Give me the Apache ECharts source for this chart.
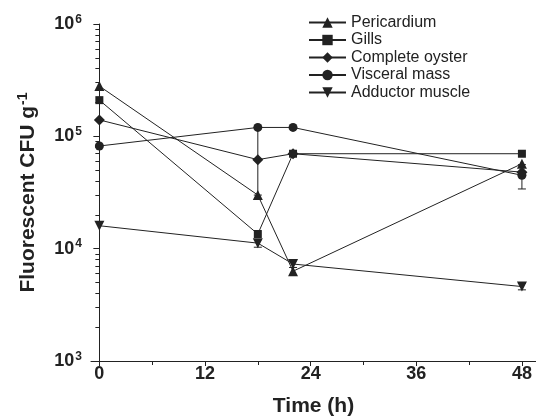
<!DOCTYPE html>
<html>
<head>
<meta charset="utf-8">
<script src="https://cdn.jsdelivr.net/npm/echarts@6/dist/echarts.min.js"></script>
<style>
  html, body { margin: 0; padding: 0; background: #fff; }
  #main { width: 536px; height: 416px; }
</style>
</head>
<body>
<div id="main"></div>
<script>
    // sampling times (h)
    var times = [0, 18, 22, 48];

    // CFU per gram
    var pericardium = [2.8e5, 3.0e4, 6.3e3, 5.7e4];
    var gills = [2.1e5, 1.35e4, 7.0e4, 7.0e4];
    var completeOyster = [1.4e5, 6.2e4, 7.0e4, 4.8e4];
    var visceralMass = [8.2e4, 1.2e5, 1.2e5, 4.5e4];
    var adductorMuscle = [1.6e4, 1.12e4, 7.3e3, 4.6e3];

    // error bars: time, low, high
    var errTime = [18, 48, 18, 22, 48];
    var errLow = [3.0e4, 3.4e4, 1.03e4, 6.8e3, 4.3e3];
    var errHigh = [1.2e5, 5.6e4, 1.2e4, 7.8e3, 4.9e3];

    var xTicks = [0, 12, 24, 36, 48];
    var xMinorTicks = [6, 18, 30, 42];
    var yMinorTicks = [2e3, 3e3, 4e3, 5e3, 6e3, 7e3, 8e3, 9e3,
                       2e4, 3e4, 4e4, 5e4, 6e4, 7e4, 8e4, 9e4,
                       2e5, 3e5, 4e5, 5e5, 6e5, 7e5, 8e5, 9e5];

    var font = 'Liberation Sans, Arial, sans-serif';
    var ink = '#222';

    function pairs(ys) {
        return times.map(function (t, i) { return [t, ys[i]]; });
    }

    function lineSeries(name, ys, symbol, size, rotate) {
        return {
            name: name,
            type: 'line',
            data: pairs(ys),
            symbol: symbol,
            symbolSize: size,
            symbolRotate: rotate || 0,
            showAllSymbol: true,
            lineStyle: { color: ink, width: 1 },
            itemStyle: { color: ink },
            emphasis: { disabled: true },
            z: 3
        };
    }

    var errData = errTime.map(function (t, i) { return [t, errLow[i], errHigh[i]]; });

    var chart = echarts.init(document.getElementById('main'));

    var option = {
        animation: false,
        textStyle: { fontFamily: font },
        grid: { left: 91, right: 0, top: 24, bottom: 55, containLabel: false, outerBoundsMode: 'none' },
        legend: {
            orient: 'vertical',
            left: 303,
            top: 9.5,
            itemWidth: 37,
            itemHeight: 13,
            itemGap: 1.5,
            textStyle: { fontSize: 16, color: ink, lineHeight: 13, fontFamily: font },
            data: ['Pericardium', 'Gills', 'Complete oyster', 'Visceral mass', 'Adductor muscle']
        },
        xAxis: [
            {
                type: 'value',
                min: -0.95,
                max: 49.6,
                name: 'Time (h)',
                nameLocation: 'middle',
                nameGap: 35,
                nameTextStyle: { fontSize: 21, fontWeight: 'bold', color: ink, fontFamily: font },
                axisLine: { lineStyle: { color: ink, width: 1 } },
                axisTick: { show: true, inside: false, length: 5, customValues: xTicks, lineStyle: { color: ink } },
                axisLabel: { customValues: xTicks, margin: 4, fontSize: 18, fontWeight: 'bold', color: ink, fontFamily: font },
                splitLine: { show: false }
            },
            {
                type: 'value',
                position: 'bottom',
                min: -0.95,
                max: 49.6,
                axisLine: { show: false },
                axisTick: { show: true, inside: false, length: 4, customValues: xMinorTicks, lineStyle: { color: ink } },
                axisLabel: { show: false },
                splitLine: { show: false }
            }
        ],
        yAxis: [
            {
                type: 'log',
                logBase: 10,
                min: 1e3,
                max: 1e6,
                name: '{n|Fluorescent CFU g}{s|-1}',
                nameLocation: 'middle',
                nameGap: 51,
                nameRotate: 90,
                nameTextStyle: {
                    rich: {
                        n: { fontSize: 21, fontWeight: 'bold', color: ink, fontFamily: font },
                        s: { fontSize: 14, fontWeight: 'bold', color: ink, fontFamily: font, verticalAlign: 'top', padding: [0, 0, 10, 1] }
                    }
                },
                axisLine: { show: true, lineStyle: { color: ink, width: 1 } },
                axisTick: { show: true, inside: false, length: 6, lineStyle: { color: ink } },
                axisLabel: {
                    margin: 9,
                    formatter: function (v) {
                        return '{b|10}{s|' + Math.round(Math.log10(v)) + '}';
                    },
                    rich: {
                        b: { fontSize: 18, fontWeight: 'bold', color: ink, fontFamily: font },
                        s: { fontSize: 12, fontWeight: 'bold', color: ink, fontFamily: font, verticalAlign: 'top', padding: [0, 0, 9, 1] }
                    }
                },
                splitLine: { show: false }
            },
            {
                type: 'value',
                position: 'left',
                min: 3,
                max: 6,
                axisLine: { show: false },
                axisTick: { show: true, inside: false, length: 4, customValues: yMinorTicks.map(Math.log10), lineStyle: { color: ink } },
                axisLabel: { show: false },
                splitLine: { show: false }
            }
        ],
        series: [
            lineSeries('Pericardium', pericardium, 'triangle', 10),
            lineSeries('Gills', gills, 'rect', 8),
            lineSeries('Complete oyster', completeOyster, 'diamond', 11),
            lineSeries('Visceral mass', visceralMass, 'circle', 9),
            lineSeries('Adductor muscle', adductorMuscle, 'triangle', 10, 180),
            {
                type: 'custom',
                data: errData,
                silent: true,
                z: 2,
                renderItem: function (params, api) {
                    var t = api.value(0);
                    var lo = api.coord([t, api.value(1)]);
                    var hi = api.coord([t, api.value(2)]);
                    var w = 4;
                    var style = { stroke: ink, lineWidth: 1 };
                    return {
                        type: 'group',
                        children: [
                            { type: 'line', shape: { x1: lo[0], y1: lo[1], x2: hi[0], y2: hi[1] }, style: style },
                            { type: 'line', shape: { x1: lo[0] - w, y1: lo[1], x2: lo[0] + w, y2: lo[1] }, style: style },
                            { type: 'line', shape: { x1: hi[0] - w, y1: hi[1], x2: hi[0] + w, y2: hi[1] }, style: style }
                        ]
                    };
                }
            }
        ]
    };

    chart.setOption(option);
</script>
</body>
</html>
